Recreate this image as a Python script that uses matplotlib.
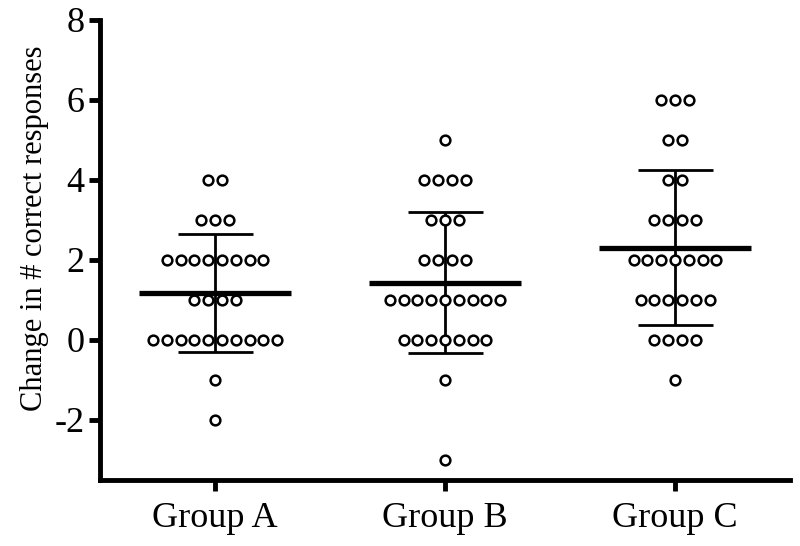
import numpy as np
import matplotlib.pyplot as plt

plt.rcParams['font.family'] = ['Liberation Serif', 'DejaVu Serif']

# Données : valeur -> nombre de points
groups = ['Group A', 'Group B', 'Group C']
values_a = [4, 3, 2, 1, 0, -1, -2]
counts_a = [2, 3, 8, 4, 10, 1, 1]
values_b = [5, 4, 3, 2, 1, 0, -1, -3]
counts_b = [1, 4, 3, 4, 9, 7, 1, 1]
values_c = [6, 5, 4, 3, 2, 1, 0, -1]
counts_c = [3, 2, 2, 4, 7, 6, 4, 1]

data = [(values_a, counts_a), (values_b, counts_b), (values_c, counts_c)]

fig = plt.figure(figsize=(8, 5.46), dpi=100)
ax = fig.add_axes([0.125, 0.121, 0.8625, 0.8425])

spacing = 0.06
for i, (vals, cnts) in enumerate(data):
    ys = np.repeat(vals, cnts)
    # points en rangées centrées sur le groupe
    for v, c in zip(vals, cnts):
        xs = i + (np.arange(c) - (c - 1) / 2) * spacing
        ax.plot(xs, [v] * c, 'o', ms=7, mfc='white', mec='black',
                mew=1.8, zorder=3, clip_on=False)
    m = ys.mean()
    sd = ys.std(ddof=1)
    ax.plot([i - 0.33, i + 0.33], [m, m], color='black', lw=3.8, zorder=4,
            solid_capstyle='butt')
    ax.errorbar(i, m, yerr=sd, fmt='none', ecolor='black', elinewidth=2,
                capsize=27, capthick=2, zorder=2)

ax.set_xlim(-0.5, 2.5)
ax.set_ylim(-3.5, 8)
ax.set_yticks([-2, 0, 2, 4, 6, 8])
ax.set_yticklabels(['-2', '0', '2', '4', '6', '8'])
ax.set_xticks([0, 1, 2])
ax.set_xticklabels(groups)

for s in ['top', 'right']:
    ax.spines[s].set_visible(False)
for s in ['left', 'bottom']:
    ax.spines[s].set_linewidth(3.5)

ax.tick_params(axis='both', width=3.5, length=8, labelsize=26, pad=3)
ax.tick_params(axis='x', pad=8)
ax.set_ylabel('Change in # correct responses', fontsize=22)
ax.yaxis.set_label_coords(-0.074, 0.548)

plt.savefig('out.png', dpi=100)
plt.close()
